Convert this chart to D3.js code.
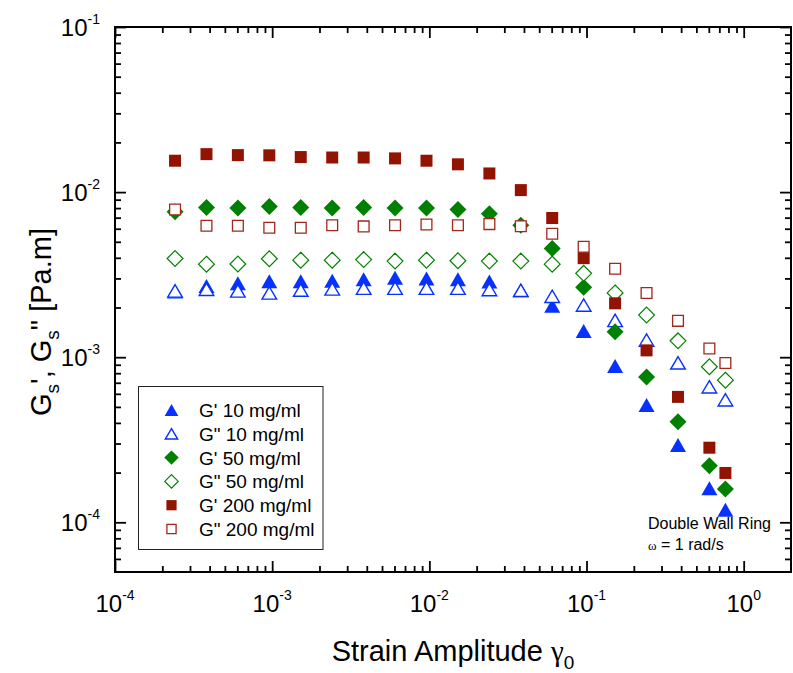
<!DOCTYPE html>
<html>
<head>
<meta charset="utf-8">
<script src="https://cdn.jsdelivr.net/npm/d3@7/dist/d3.min.js"></script>
<style>
  html, body { margin: 0; padding: 0; background: #fff; }
  svg { display: block; font-family: "Liberation Sans", Arial, sans-serif; }
</style>
</head>
<body>
<svg id="chart" width="793" height="673"></svg>
<script>
// Strain amplitude sweep (log-spaced, 5 points per decade)
const strain = [2.41e-4, 3.82e-4, 6.05e-4, 9.59e-4, 1.52e-3, 2.41e-3, 3.82e-3, 6.05e-3, 9.59e-3,
                1.52e-2, 2.41e-2, 3.82e-2, 6.05e-2, 9.59e-2, 0.152, 0.241, 0.382, 0.605, 0.765];

// Interfacial moduli [Pa.m]
const gStorage10  = [0.00250, 0.00270, 0.00280, 0.00288, 0.00288, 0.00290, 0.00297, 0.00303, 0.00300, 0.00297,
                     0.00287, 0.00254, 0.00205, 0.00144, 0.000885, 0.000513, 0.000294, 0.000161, 0.000119];
const gLoss10     = [0.00252, 0.00258, 0.00252, 0.00245, 0.00255, 0.00259, 0.00262, 0.00262, 0.00262, 0.00262,
                     0.00257, 0.00254, 0.00234, 0.00207, 0.00167, 0.00127, 0.000924, 0.000662, 0.000552];
const gStorage50  = [0.00760, 0.00807, 0.00800, 0.00818, 0.00807, 0.00800, 0.00807, 0.00800, 0.00800, 0.00785,
                     0.00740, 0.00630, 0.00456, 0.00265, 0.001425, 0.000760, 0.000406, 0.000220, 0.000159];
const gLoss50     = [0.00396, 0.00366, 0.00367, 0.00395, 0.00387, 0.00387, 0.00390, 0.00382, 0.00387, 0.00384,
                     0.00382, 0.00382, 0.00366, 0.00322, 0.00245, 0.00180, 0.001256, 0.000875, 0.000726];
const gStorage200 = [0.01549, 0.01698, 0.01675, 0.01670, 0.01630, 0.01620, 0.01620, 0.01600, 0.01549, 0.01473,
                     0.01297, 0.01028, 0.00697, 0.00398, 0.00212, 0.00110, 0.000575, 0.000283, 0.000199];
const gLoss200    = [0.00785, 0.00625, 0.00625, 0.00608, 0.00608, 0.00630, 0.00620, 0.00630, 0.00637, 0.00630,
                     0.00640, 0.00621, 0.00559, 0.00467, 0.00343, 0.00245, 0.00166, 0.00113, 0.000923];

const seriesNames = ["G' 10 mg/ml", "G\" 10 mg/ml", "G' 50 mg/ml", "G\" 50 mg/ml", "G' 200 mg/ml", "G\" 200 mg/ml"];
const seriesValues = [gStorage10, gLoss10, gStorage50, gLoss50, gStorage200, gLoss200];

// Axis decades
const xDecades = [1e-4, 1e-3, 1e-2, 1e-1, 1];
const xExponents = ["-4", "-3", "-2", "-1", "0"];
const yDecades = [1e-4, 1e-3, 1e-2, 1e-1];
const yExponents = ["-4", "-3", "-2", "-1"];

// ---------------------------------------------------------------------------
const svg = d3.select("#chart");
const plot = { left: 115, right: 791, top: 27, bottom: 572 };

const x = d3.scaleLog().domain([1e-4, 2]).range([plot.left, plot.right]);
const y = d3.scaleLog().domain([5e-5, 0.1]).range([plot.bottom, plot.top]);

const BLUE = "#0631ff", GREEN = "#008000", RED = "#921300";

// Marker outlines (centred on the data point)
const shapes = {
  triFill:  "M0,-7L8,7L-8,7Z",
  triOpen:  "M0,-6.2L7.3,6.2L-7.3,6.2Z",
  diaFill:  "M0,-8.5L8.5,0L0,8.5L-8.5,0Z",
  diaOpen:  "M0,-7.9L7.9,0L0,7.9L-7.9,0Z",
  sqFill:   "M-6,-6H6V6H-6Z",
  sqOpen:   "M-5.4,-5.4H5.4V5.4H-5.4Z"
};
const styles = [
  { d: shapes.triFill, fill: BLUE,  stroke: "none", sw: 0 },
  { d: shapes.triOpen, fill: "#fff", stroke: BLUE,  sw: 1.4 },
  { d: shapes.diaFill, fill: GREEN, stroke: "none", sw: 0 },
  { d: shapes.diaOpen, fill: "#fff", stroke: GREEN, sw: 1.2 },
  { d: shapes.sqFill,  fill: RED,   stroke: "none", sw: 0 },
  { d: shapes.sqOpen,  fill: "#fff", stroke: "#a3261a", sw: 1.3 }
];

// Minor tick positions 2..9 per decade inside the domain
function minorTicks(scale) {
  const [lo, hi] = scale.domain();
  const out = [];
  for (let e = Math.floor(Math.log10(lo)); e <= Math.ceil(Math.log10(hi)); e++) {
    for (let m = 2; m <= 9; m++) {
      const v = m * Math.pow(10, e);
      if (v > lo * 1.0001 && v < hi * 0.9999) out.push(v);
    }
  }
  return out;
}

const MAJOR = 11, MINOR = 6;
function drawAxis(axisFn, scale, transform, values, len) {
  const g = svg.append("g")
    .attr("transform", transform)
    .call(axisFn(scale).tickValues(values).tickSize(-len).tickFormat(""));
  g.select(".domain").remove();
  g.selectAll(".tick line").attr("stroke", "#000").attr("stroke-width", 1.8);
  g.selectAll(".tick text").remove();
}
const xMinor = minorTicks(x), yMinor = minorTicks(y);
const yMajorIn = yDecades.filter(v => v > 5e-5);
drawAxis(d3.axisBottom, x, `translate(0,${plot.bottom})`, xDecades, MAJOR);
drawAxis(d3.axisBottom, x, `translate(0,${plot.bottom})`, xMinor, MINOR);
drawAxis(d3.axisTop, x, `translate(0,${plot.top})`, xDecades, MAJOR);
drawAxis(d3.axisTop, x, `translate(0,${plot.top})`, xMinor, MINOR);
drawAxis(d3.axisLeft, y, `translate(${plot.left},0)`, yMajorIn, MAJOR);
drawAxis(d3.axisLeft, y, `translate(${plot.left},0)`, yMinor, MINOR);
drawAxis(d3.axisRight, y, `translate(${plot.right},0)`, yMajorIn, MAJOR);
drawAxis(d3.axisRight, y, `translate(${plot.right},0)`, yMinor, MINOR);

// Frame
svg.append("rect")
  .attr("x", plot.left).attr("y", plot.top)
  .attr("width", plot.right - plot.left).attr("height", plot.bottom - plot.top)
  .attr("fill", "none").attr("stroke", "#000").attr("stroke-width", 2);

// Tick labels as powers of ten
const xLab = svg.append("g").selectAll("text").data(xDecades).join("text")
  .attr("x", d => x(d)).attr("y", 612)
  .attr("text-anchor", "middle").attr("font-size", 24).attr("fill", "#000");
xLab.append("tspan").text("10");
xLab.append("tspan").attr("dy", -12).attr("font-size", 14).text((d, i) => xExponents[i]);

const yLab = svg.append("g").selectAll("text").data(yDecades).join("text")
  .attr("x", 100).attr("y", d => y(d) + 9)
  .attr("text-anchor", "end").attr("font-size", 24).attr("fill", "#000");
yLab.append("tspan").text("10");
yLab.append("tspan").attr("dy", -12).attr("font-size", 14).text((d, i) => yExponents[i]);

// Data markers
const pts = svg.append("g");
seriesValues.forEach((vals, s) => {
  const st = styles[s];
  pts.append("g").selectAll("path").data(vals).join("path")
    .attr("transform", (d, i) => `translate(${x(strain[i])},${y(d)})`)
    .attr("d", st.d)
    .attr("fill", st.fill)
    .attr("stroke", st.stroke)
    .attr("stroke-width", st.sw);
});

// Legend
const legend = svg.append("g");
legend.append("rect")
  .attr("x", 138.5).attr("y", 386.5).attr("width", 184.5).attr("height", 163)
  .attr("fill", "#fff").attr("stroke", "#222").attr("stroke-width", 1);
const rowY = d3.scaleLinear().domain([0, 5]).range([410, 529]);
seriesNames.forEach((name, s) => {
  const st = styles[s];
  legend.append("path")
    .attr("transform", `translate(171.5,${rowY(s)}) scale(0.85)`)
    .attr("d", st.d).attr("fill", st.fill).attr("stroke", st.stroke)
    .attr("stroke-width", st.sw / 0.85);
  legend.append("text")
    .attr("x", 199).attr("y", rowY(s) + 7)
    .attr("font-size", 19).attr("fill", "#000")
    .text(name);
});

// Measurement notes
svg.append("text").attr("x", 648).attr("y", 529)
  .attr("font-size", 16).attr("fill", "#000").text("Double Wall Ring");
const omega = svg.append("text").attr("x", 648).attr("y", 550)
  .attr("font-size", 16).attr("fill", "#000");
omega.append("tspan").attr("font-size", 13).attr("font-family", "'Liberation Serif', serif").text("ω");
omega.append("tspan").text(" = 1 rad/s");

// Axis titles
const xt = svg.append("text")
  .attr("x", (plot.left + plot.right) / 2).attr("y", 661)
  .attr("text-anchor", "middle").attr("font-size", 29).attr("fill", "#000");
xt.append("tspan").text("Strain Amplitude ");
xt.append("tspan").attr("font-family", "'Liberation Serif', serif").text("γ");
xt.append("tspan").attr("dy", 8).attr("font-size", 19).text("0");

const yt = svg.append("text")
  .attr("transform", `translate(51,322) rotate(-90)`)
  .attr("text-anchor", "middle").attr("font-size", 29).attr("fill", "#000");
yt.append("tspan").text("G");
yt.append("tspan").attr("dy", 8).attr("font-size", 19).text("s");
yt.append("tspan").attr("dy", -8).text("', G");
yt.append("tspan").attr("dy", 8).attr("font-size", 19).text("s");
yt.append("tspan").attr("dy", -8).text("\" [Pa.m]");
</script>
</body>
</html>
